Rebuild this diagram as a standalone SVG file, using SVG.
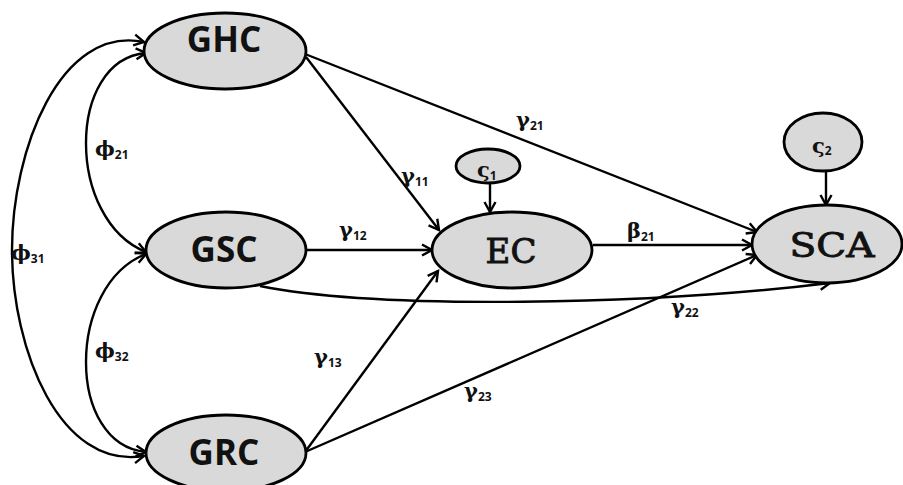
<svg xmlns="http://www.w3.org/2000/svg" width="903" height="485" viewBox="0 0 903 485">
<defs>
<marker id="arr" markerUnits="userSpaceOnUse" markerWidth="16" markerHeight="16" refX="12" refY="7" orient="auto">
<path d="M2,1.5 L12,7 L2,12.5" fill="none" stroke="#000" stroke-width="2.4" stroke-linejoin="miter"/>
</marker>
<marker id="arrs" markerUnits="userSpaceOnUse" markerWidth="16" markerHeight="16" refX="12" refY="7" orient="auto-start-reverse">
<path d="M2,1.5 L12,7 L2,12.5" fill="none" stroke="#000" stroke-width="2.4"/>
</marker>
</defs>
<style>
.node{fill:#d9d9d9;stroke:#000;stroke-width:2.8}
.lbl{font-family:"Open Sans","DejaVu Sans",sans-serif;font-weight:bold;font-size:35px;fill:#111;text-anchor:middle}
.lbls{font-family:"DejaVu Serif","Liberation Serif",serif;font-size:34px;fill:#111;stroke:#111;stroke-width:0.9;text-anchor:middle}
.edge{fill:none;stroke:#000;stroke-width:2.4;marker-end:url(#arr)}
.cov{fill:none;stroke:#000;stroke-width:2.4;marker-start:url(#arrs);marker-end:url(#arrs)}
.g{font-family:"DejaVu Serif","Liberation Serif",serif;font-weight:bold;font-size:21px;fill:#111}
.sub{font-family:"Open Sans","DejaVu Sans",sans-serif;font-size:12px;font-weight:bold}
</style>
<rect width="903" height="485" fill="#fff"/>
<g id="connectors">
<path class="cov" d="M146,53 C66,60 66,220 146,252"/>
<path class="cov" d="M146,254 C66,285 66,445 146,452"/>
<path class="cov" d="M144,42 C60,25 12,150 12,250 C12,350 60,470 144,456"/>
<path class="edge" d="M306,57 L439,230"/>
<path class="edge" d="M305,54 L757,232"/>
<path class="edge" d="M306,250 L432,250"/>
<path class="edge" d="M593,245 L752,245"/>
<path class="edge" d="M260,286 C380,310 650,305 830,283"/>
<path class="edge" d="M305,452 L438,271"/>
<path class="edge" d="M305,452 L757,255"/>
<path class="edge" d="M490,182 L490,212"/>
<path class="edge" d="M826,171 L826,205"/>
</g>
<g id="GHC"><ellipse class="node" cx="225" cy="51" rx="81" ry="38"/><text class="lbl" x="224" y="52">GHC</text></g>
<g id="GSC"><ellipse class="node" cx="226" cy="250" rx="80" ry="38"/><text class="lbl" x="224" y="262">GSC</text></g>
<g id="GRC"><ellipse class="node" cx="226" cy="453" rx="80" ry="38"/><text class="lbl" x="224" y="465">GRC</text></g>
<g id="EC"><ellipse class="node" cx="512" cy="250" rx="80" ry="38"/><text class="lbls" x="511" y="263">EC</text></g>
<g id="SCA"><ellipse class="node" cx="827" cy="244" rx="75" ry="39"/><text class="lbls" x="832" y="257" textLength="85" lengthAdjust="spacingAndGlyphs">SCA</text></g>
<g id="zeta1"><ellipse class="node" cx="488" cy="166" rx="32" ry="17"/><text class="g" x="477" y="177">ς<tspan class="sub" dy="3">1</tspan></text></g>
<g id="zeta2"><ellipse class="node" cx="823" cy="142" rx="39" ry="29"/><text class="g" x="812" y="153">ς<tspan class="sub" dy="2">2</tspan></text></g>
<g id="labels">
<text class="g" x="95" y="156">ϕ<tspan class="sub" dy="3">21</tspan></text>
<text class="g" x="11" y="260">ϕ<tspan class="sub" dy="3">31</tspan></text>
<text class="g" x="95" y="358">ϕ<tspan class="sub" dy="3">32</tspan></text>
<text class="g" x="401" y="183">γ<tspan class="sub" dy="3">11</tspan></text>
<text class="g" x="339" y="237">γ<tspan class="sub" dy="3">12</tspan></text>
<text class="g" x="314" y="364">γ<tspan class="sub" dy="3">13</tspan></text>
<text class="g" x="516" y="127">γ<tspan class="sub" dy="3">21</tspan></text>
<text class="g" x="671" y="314">γ<tspan class="sub" dy="3">22</tspan></text>
<text class="g" x="464" y="398">γ<tspan class="sub" dy="3">23</tspan></text>
<text class="g" x="627" y="238">β<tspan class="sub" dy="3">21</tspan></text>
</g>
</svg>
